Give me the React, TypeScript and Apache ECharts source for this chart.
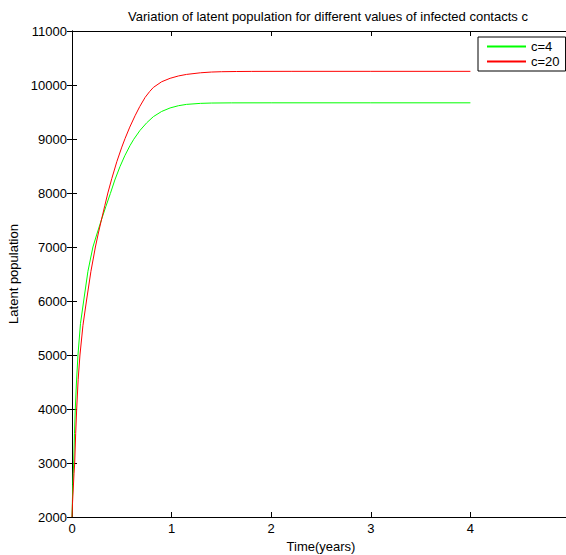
import React, { useEffect, useRef } from "react";
import * as echarts from "echarts";

const titleText = "Variation of latent population for different values of infected contacts c";
const xAxisTitle = "Time(years)";
const yAxisTitle = "Latent population";
const seriesNames = ["c=4", "c=20"];

const greenT = [0, 0.004, 0.008, 0.012, 0.017, 0.025, 0.033, 0.045, 0.06, 0.085, 0.117, 0.16, 0.21, 0.25, 0.295, 0.34, 0.385, 0.43, 0.482, 0.53, 0.583, 0.62, 0.683, 0.75, 0.817, 0.9, 0.985, 1.07, 1.15, 1.29, 1.4, 1.6, 2, 3, 4];
const greenV = [2000, 2300, 2600, 2800, 3000, 3550, 4000, 4500, 5000, 5580, 6000, 6550, 7000, 7240, 7500, 7750, 7990, 8240, 8490, 8690, 8880, 8995, 9160, 9300, 9414, 9510, 9575, 9617, 9641, 9660, 9666, 9669, 9670, 9670, 9670];

const redT = [0, 0.005, 0.012, 0.02, 0.027, 0.037, 0.047, 0.062, 0.08, 0.11, 0.145, 0.19, 0.235, 0.265, 0.295, 0.33, 0.36, 0.4, 0.45, 0.5, 0.533, 0.58, 0.633, 0.68, 0.734, 0.78, 0.817, 0.9, 0.985, 1.07, 1.15, 1.29, 1.4, 1.5, 1.65, 1.8, 2.2, 3, 4];
const redV = [2000, 2250, 2500, 2800, 3000, 3550, 4000, 4550, 5000, 5550, 6000, 6550, 7000, 7260, 7500, 7770, 8000, 8270, 8580, 8850, 9010, 9220, 9430, 9600, 9770, 9880, 9955, 10060, 10124, 10168, 10196, 10226, 10240, 10246, 10250, 10252, 10253, 10253, 10253];

const FONT = "'Liberation Sans', Arial, Helvetica, sans-serif";

export default function App() {
  const ref = useRef<HTMLDivElement>(null);
  useEffect(() => {
    document.body.style.margin = "0";
    if (!ref.current) return;
    const chart = echarts.init(ref.current, null, { renderer: "svg" });
    const axisLine = { show: true, lineStyle: { color: "#000", width: 1 } };
    const tick = { show: true, inside: true, length: 5, lineStyle: { color: "#000", width: 1 } };
    chart.setOption({
      animation: false,
      backgroundColor: "#fff",
      textStyle: { fontFamily: FONT },
      title: {
        text: titleText,
        left: 323,
        top: 5,
        textAlign: "center",
        textStyle: { fontSize: 13, fontWeight: "normal", color: "#000", fontFamily: FONT },
      },
      legend: {
        orient: "vertical",
        left: 478,
        top: 37,
        data: seriesNames,
        itemWidth: 39,
        itemHeight: 14,
        itemGap: 2,
        padding: [3, 6, 3, 8],
        borderColor: "#000",
        borderWidth: 1,
        backgroundColor: "#fff",
        itemStyle: { opacity: 0 },
        textStyle: { fontSize: 13, color: "#000", fontFamily: FONT },
      },
      grid: { left: 72, right: -4, top: 31, bottom: 38, containLabel: false, outerBoundsMode: "none" },
      xAxis: [
        {
          type: "value",
          min: 0,
          max: 5,
          interval: 1,
          position: "bottom",
          name: xAxisTitle,
          nameLocation: "middle",
          nameGap: 22,
          nameTextStyle: { fontSize: 13, color: "#000", fontFamily: FONT },
          axisLine,
          axisTick: tick,
          splitLine: { show: false },
          axisLabel: {
            fontSize: 13,
            color: "#000",
            margin: 5,
            fontFamily: FONT,
            formatter: (v: number) => (v >= 5 ? "" : String(v)),
          },
        },
        {
          type: "value",
          min: 0,
          max: 5,
          interval: 1,
          position: "top",
          axisLine,
          axisTick: tick,
          splitLine: { show: false },
          axisLabel: { show: false },
        },
      ],
      yAxis: [
        {
          type: "value",
          min: 2000,
          max: 11000,
          interval: 1000,
          position: "left",
          name: yAxisTitle,
          nameLocation: "middle",
          nameGap: 42,
          nameRotate: 90,
          nameTextStyle: { fontSize: 13, color: "#000", fontFamily: FONT },
          axisLine,
          axisTick: tick,
          splitLine: { show: false },
          axisLabel: { fontSize: 13, color: "#000", margin: 5, fontFamily: FONT, formatter: (v: number) => String(v) },
        },
        {
          type: "value",
          min: 2000,
          max: 11000,
          interval: 1000,
          position: "right",
          axisLine,
          axisTick: tick,
          splitLine: { show: false },
          axisLabel: { show: false },
        },
      ],
      series: [
        {
          name: seriesNames[0],
          type: "line",
          data: greenT.map((t, i) => [t, greenV[i]]),
          symbol: "none",
          smooth: false,
          lineStyle: { color: "#00ff00", width: 1 },
          itemStyle: { color: "#00ff00" },
        },
        {
          name: seriesNames[1],
          type: "line",
          data: redT.map((t, i) => [t, redV[i]]),
          symbol: "none",
          smooth: false,
          lineStyle: { color: "#ff0000", width: 1 },
          itemStyle: { color: "#ff0000" },
        },
      ],
    });
    return () => chart.dispose();
  }, []);
  return <div ref={ref} style={{ width: 566, height: 555 }} />;
}
